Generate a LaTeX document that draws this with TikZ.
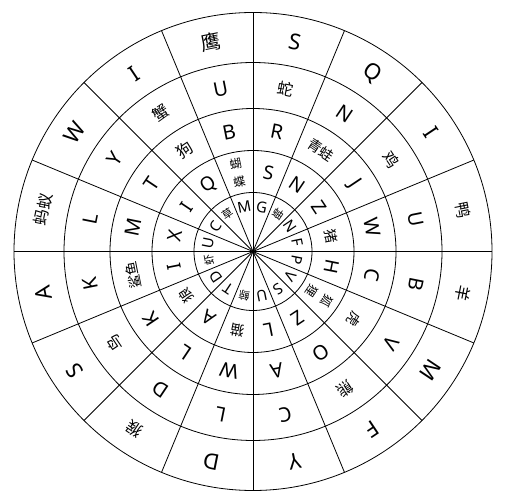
\documentclass[tikz,border=0pt]{standalone}
\usepackage{fontspec}
\setmainfont{Noto Sans}
\newfontfamily\cjk{Noto Sans CJK SC}
\usetikzlibrary{calc}
\begin{document}
\begin{tikzpicture}[x=1pt,y=1pt,
  ringline/.style={line width=0.8pt},
  lab/.style={inner sep=0pt, anchor=center, align=center},
  LA/.style={font=\fontsize{22}{24}\selectfont},
  LB/.style={font=\fontsize{20}{22}\selectfont},
  LD/.style={font=\fontsize{19}{21}\selectfont},
  LE/.style={font=\fontsize{15}{17}\selectfont},
  ZB/.style={font=\cjk\fontsize{20}{22}\selectfont},
  ZA/.style={font=\cjk\fontsize{16}{18}\selectfont},
  ZC/.style={font=\cjk\fontsize{14}{16}\selectfont},
  ZD/.style={font=\cjk\fontsize{14}{16}\selectfont},
  ZT/.style={font=\cjk\fontsize{12}{19}\selectfont},
  ZE/.style={font=\cjk\fontsize{11}{13}\selectfont}]
\useasboundingbox (0,0) rectangle (508,497);
\fill[white] (0,0) rectangle (508,497);
\coordinate (O) at (253,245.5);
% rings
\foreach \r in {239,189,143,101,59}
  \draw[ringline] (O) circle[radius=\r];
% spokes
\foreach \a in {0,22.5,...,157.5}
  \draw[ringline] ($(O)+(\a:239)$) -- ($(O)+(\a+180:239)$);
% ring A (outer)
\foreach \k/\s/\t in {1/LA/S,2/LA/Q,3/LA/I,4/ZA/鸭,5/ZA/羊,6/LA/M,7/LA/F,8/LA/Y,
  9/LA/D,10/ZA/猴,11/LA/S,12/LA/A,13/ZA/蚂蚁,14/LA/W,15/LA/I,16/ZB/鹰}
  \node[lab,\s,rotate={-(\k-0.5)*22.5}] (A\k) at ($(O)+({90-(\k-0.5)*22.5}:214)$) {\t};
% ring B
\foreach \k/\s/\t in {1/ZA/蛇,2/LB/N,3/ZA/鸡,4/LB/U,5/LB/B,6/LB/V,7/ZA/熊,8/LB/C,
  9/LB/L,10/LB/D,11/ZA/鸟,12/LB/K,13/LB/L,14/LB/Y,15/ZA/蟹,16/LB/U}
  \node[lab,\s,rotate={-(\k-0.5)*22.5}] (B\k) at ($(O)+({90-(\k-0.5)*22.5}:166)$) {\t};
% ring C
\foreach \k/\s/\t in {1/LB/R,2/ZC/青蛙,3/LB/J,4/LB/W,5/LB/C,6/ZC/虎,7/LB/O,8/LB/A,
  9/LB/W,10/LB/L,11/LB/K,12/ZC/鲨鱼,13/LB/M,14/LB/T,15/ZA/狗,16/LB/B}
  \node[lab,\s,rotate={-(\k-0.5)*22.5}] (C\k) at ($(O)+({90-(\k-0.5)*22.5}:122)$) {\t};
% ring D
\foreach \k/\s/\t in {1/LD/S,2/LD/N,3/LD/Z,4/ZD/猪,5/LD/H,6/ZT/{狐\\狸},7/LD/Z,8/LD/L,
  9/ZD/猫,10/LD/A,11/ZD/狼,12/LD/I,13/LD/X,14/LD/I,15/LD/Q,16/ZT/{蝴\\蝶}}
  \node[lab,\s,rotate={-(\k-0.5)*22.5}] (D\k) at ($(O)+({90-(\k-0.5)*22.5}:80)$) {\t};
% ring E (inner)
\foreach \k/\s/\t in {1/LE/G,2/ZE/蚰,3/LE/N,4/LE/F,5/LE/P,6/LE/V,7/LE/S,8/LE/U,
  9/ZE/鲸,10/LE/T,11/LE/D,12/ZE/虾,13/LE/U,14/LE/C,15/ZE/草,16/LE/M}
  \node[lab,\s,rotate={-(\k-0.5)*22.5}] (E\k) at ($(O)+({90-(\k-0.5)*22.5}:45)$) {\t};
\end{tikzpicture}
\end{document}
